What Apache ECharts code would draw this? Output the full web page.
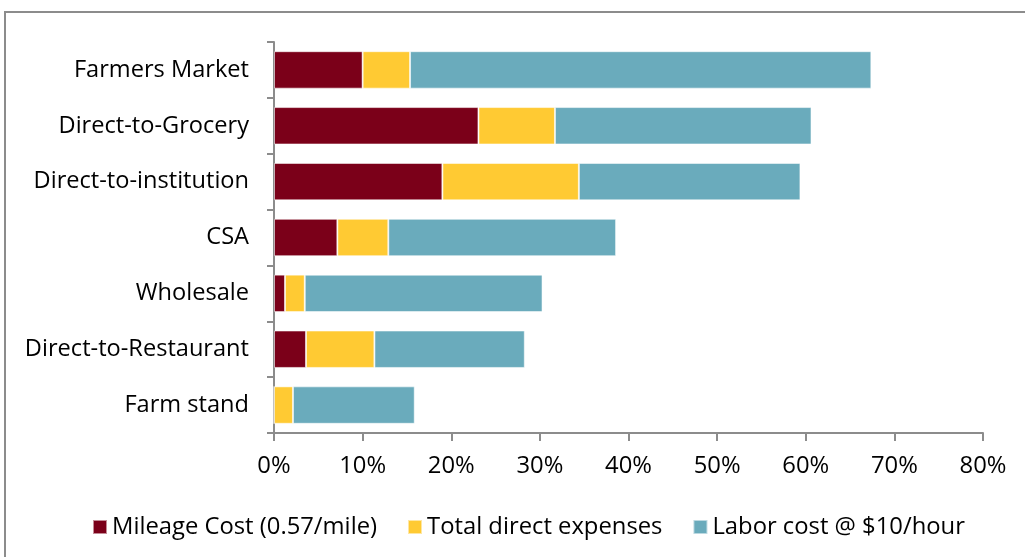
<!DOCTYPE html>
<html><head><meta charset="utf-8">
<script src="https://cdn.jsdelivr.net/npm/echarts@6/dist/echarts.min.js"></script>
<style>html,body{margin:0;padding:0;background:#fff}#c{width:1025px;height:557px}</style>
</head><body><div id="c"></div>
<script>
const categories = ["Farmers Market","Direct-to-Grocery","Direct-to-institution","CSA","Wholesale","Direct-to-Restaurant","Farm stand"];
const mileage = [10.0, 23.07, 19.0, 7.15, 1.24, 3.61, 0];
const directExp = [5.35, 8.63, 15.4, 5.75, 2.23, 7.72, 2.14];
const labor = [52.05, 28.95, 25.0, 25.7, 26.83, 16.97, 13.74];
const seriesNames = ["Mileage Cost (0.57/mile)","Total direct expenses","Labor cost @ $10/hour"];
const colors = ["#7B0019","#FFCA33","#6AABBC"];
const font = "'Open Sans', sans-serif";
const chart = echarts.init(document.getElementById('c'));
const mk = (name, data, color) => ({
  name, type:'bar', stack:'total', data, barCategoryGap:'33%',
  itemStyle:{color, borderColor:'rgba(255,255,255,0.55)', borderWidth:1},
  emphasis:{disabled:true}
});
chart.setOption({
  animation:false,
  graphic:[{type:'rect', shape:{x:5, y:12, width:1030, height:560}, style:{fill:null, stroke:'#8c8c8c', lineWidth:2}, silent:true}],
  grid:{left:274, right:42, top:42, bottom:124},
  legend:{
    top:510, left:87, itemWidth:14, itemHeight:14, itemGap:30,
    icon:'rect',
    textStyle:{fontFamily:font, fontSize:23.8, color:'#000'},
    data:seriesNames
  },
  xAxis:{
    type:'value', min:0, max:80, interval:10,
    axisLine:{show:true, lineStyle:{color:'#8c8c8c', width:2}},
    axisTick:{show:true, length:8, lineStyle:{color:'#8c8c8c', width:2}},
    splitLine:{show:false},
    axisLabel:{formatter:'{value}%', fontFamily:font, fontSize:23.8, color:'#000', margin:21}
  },
  yAxis:{
    type:'category', data:categories, inverse:true,
    axisLine:{show:true, lineStyle:{color:'#8c8c8c', width:2}},
    axisTick:{show:true, length:7, lineStyle:{color:'#8c8c8c', width:2}},
    axisLabel:{fontFamily:font, fontSize:23.6, color:'#000', margin:25}
  },
  series:[mk(seriesNames[0], mileage, colors[0]), mk(seriesNames[1], directExp, colors[1]), mk(seriesNames[2], labor, colors[2])]
});
</script></body></html>
